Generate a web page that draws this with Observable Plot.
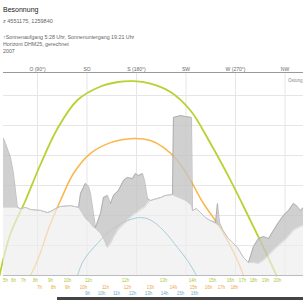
<!DOCTYPE html>
<html><head><meta charset="utf-8">
<script src="https://cdn.jsdelivr.net/npm/d3@7"></script>
<script src="https://cdn.jsdelivr.net/npm/@observablehq/plot@0.6"></script>
<style>
body{margin:0;background:#fff;font-family:"Liberation Sans",Arial,sans-serif;width:303px;height:300px;overflow:hidden;position:relative}
.t{position:absolute;left:3px;white-space:nowrap;color:#666;line-height:1}
</style></head><body>
<div class="t" style="top:6px;font-size:7px;color:#222">Besonnung</div>
<div class="t" style="top:19px;font-size:5.5px">z 4551175, 1259840</div>
<div class="t" style="top:35px;font-size:5.3px">↑Sonnenaufgang 5:28 Uhr, Sonnenuntergang 19:21 Uhr</div>
<div class="t" style="top:42px;font-size:5.3px">Horizont DHM25, gerechnet</div>
<div class="t" style="top:49px;font-size:5.3px">2007</div>
<div id="chart" style="position:absolute;top:60px;left:0"></div>
<div style="position:absolute;left:57px;top:297px;width:246px;height:3px;background:#444"></div>
<script>
// Top axis (azimuth, degrees)
const dirTicks = [90, 135, 180, 225, 270, 315];
const dirLabels = ["O (90°)", "SO", "S (180°)", "SW", "W (270°)", "NW"];

// Sun paths: azimuth / elevation (degrees)
const summerAz   = [55.5, 65.5, 79.1, 92.7, 108.2, 126.4, 147.3, 163, 177.3, 192.7, 210.9, 229.1, 247.3, 265.5, 283.6, 295.5, 307.3];
const summerElev = [0, 14, 25, 37, 49, 58.5, 63, 64.5, 64.8, 64, 61.2, 55, 44, 31.7, 18.3, 9.3, 0];
const equinoxAz   = [83.6, 90, 101.8, 110.9, 122.7, 138.2, 156.4, 177.3, 192.7, 204.5, 217.3, 229.1, 240.9, 253.6, 262.7, 271.8, 277.3];
const equinoxElev = [0, 5, 17.3, 25, 34, 40.7, 44.3, 45.7, 45, 42.7, 38.3, 31.7, 24, 17.3, 11.7, 5, 0];
const winterAz   = [126.4, 131.8, 144.5, 156.4, 171.8, 183.6, 192.7, 204.5, 217.3, 226.4, 234.5];
const winterElev = [0, 5, 10.7, 15, 18.3, 19.3, 18.5, 15, 9.3, 5, 0];

// Hour marks along the bottom
const summerHourAz = [60.9, 68.2, 77.3, 88.2, 101.8, 117.3, 136.4, 170, 204.5, 230.9, 249.1, 265.5, 276.4, 286.4, 297.3, 308.2];
const summerHours  = ["5h","6h","7h","8h","9h","10h","11h","12h","13h","14h","15h","16h","17h","18h","19h","20h"];
const equinoxHourAz = [91.8, 104.5, 117.3, 131.8, 151.8, 171.8, 192.7, 213.6, 231.8, 245.5, 257.3, 269.1];
const equinoxHours  = ["7h","8h","9h","10h","11h","12h","13h","14h","15h","16h","17h","18h"];
const winterHourAz = [135.5, 148.2, 161.8, 176.4, 190.9, 205.5, 220, 232.7];
const winterHours  = ["9h","10h","11h","12h","13h","14h","15h","16h"];

// Horizon profile: azimuth, near horizon elevation, far horizon elevation
const horizonAz = [59.1, 60.9, 65.5, 68.2, 70.0, 71.8, 74.5, 79.1, 83.6, 92.7, 99.1, 101.8, 106.4, 110.9, 120.0, 127.3,
  129.1, 133.6, 136.4, 138.2, 140.9, 142.7, 147.3, 150.0, 153.6, 156.4, 159.1, 163.6, 168.2, 171.8, 176.4, 179.1, 181.8,
  185.5, 187.3, 190.0, 192.7, 201.8, 206.4, 212.7, 213.6, 220.0, 224.5, 230.0, 230.9, 234.5, 238.2, 242.7, 247.3, 251.8,
  253.6, 255.5, 258.2, 262.7, 267.3, 271.8, 277.3, 281.8, 286.4, 290.9, 295.5, 300.0, 304.5, 309.1, 313.6, 318.2, 322.7, 325.5, 329.1, 331.8];
const nearElev = [22.7, 22.7, 22.7, 22.7, 22.7, 22.7, 22.3, 22.7, 22, 21.7, 21, 21.3, 22.3, 23, 23.3, 22.7,
  21.7, 19, 18, 17.3, 16, 15.7, 14, 12.3, 9.3, 10.7, 12.7, 15.3, 17, 18.3, 20, 20.7, 21.3,
  22.3, 22.7, 24, 25, 26, 26.7, 27, 26.7, 25.7, 25, 23.3, 21.7, 22.3, 21, 19.3, 18.3, 17.3,
  17, 16.7, 15.3, 12.7, 11, 9.3, 6, 4.3, 4.3, 4, 5, 6.7, 8.3, 10, 11.3, 13, 15, 15.7, 16.3, 16.7];
const farElev = [45.7, 44, 39.3, 34, 28.3, 22.7, 22.3, 22.7, 22, 21.7, 21, 21.3, 22.3, 23, 23.3, 22.7,
  27.3, 30.7, 29.7, 27.3, 20.7, 16, 20.7, 26, 26.7, 24, 26.7, 28.3, 31.7, 32.7, 32.3, 34, 33.3,
  34, 31.7, 25.7, 25, 26, 26.7, 27, 52.7, 53.3, 53, 52.7, 21.7, 22.3, 21, 19.3, 18.3, 17.7,
  24, 17.7, 15.3, 12.7, 11, 9.3, 6, 4.3, 9.7, 12.3, 13, 12.3, 15, 17.7, 20, 21.7, 24, 23.3, 21.7, 22.7];

const green = "#b5d334", orange = "#fbb64a", blue = "#8fc0d4";
const horizon = horizonAz.map((a, i) => ({az: a, near: nearElev[i], far: farElev[i]}));
const path = (az, el) => az.map((a, i) => ({az: a, el: el[i]}));
const hours = (az, lab) => az.map((a, i) => ({az: a, t: lab[i]}));

const chart = Plot.plot({
  width: 303, height: 240,
  marginTop: 12, marginBottom: 25, marginLeft: 3, marginRight: 0,
  style: {fontFamily: "Liberation Sans, Arial, sans-serif", background: "transparent", overflow: "visible"},
  x: {domain: [59.1, 331.8], axis: null},
  y: {domain: [0, 67.67], axis: null},
  marks: [
    Plot.gridX(dirTicks, {stroke: "#e6e6e6", strokeOpacity: 1}),
    Plot.gridY([10, 20, 30, 40, 50, 60], {stroke: "#e6e6e6", strokeOpacity: 1}),
    Plot.line(path(summerAz, summerElev), {x: "az", y: "el", stroke: green, strokeWidth: 1.8, curve: "catmull-rom"}),
    Plot.line(path(equinoxAz, equinoxElev), {x: "az", y: "el", stroke: orange, strokeWidth: 1.5, curve: "catmull-rom"}),
    Plot.areaY(horizon, {x: "az", y1: 0, y2: "near", fill: "#eeeeee", fillOpacity: 0.68}),
    Plot.line(path(winterAz, winterElev), {x: "az", y: "el", stroke: blue, strokeWidth: 0.9, strokeOpacity: 0.85, curve: "catmull-rom"}),
    Plot.areaY(horizon, {x: "az", y1: "near", y2: "far", fill: "#c4c4c4", fillOpacity: 0.8}),
    Plot.line(horizon, {x: "az", y: "far", stroke: "#999", strokeWidth: 0.6}),
    Plot.line(horizon, {x: "az", y: "near", stroke: "#c8c8c8", strokeWidth: 0.6}),
    Plot.ruleY([0], {stroke: "#bbb", strokeWidth: 1}),
    Plot.ruleY([67.67], {stroke: "#999", strokeWidth: 1}),
    Plot.text(hours(summerHourAz, summerHours), {x: "az", text: "t", frameAnchor: "bottom", dy: 6, fill: "#a9c93a", fontSize: 4.5}),
    Plot.text(hours(equinoxHourAz, equinoxHours), {x: "az", text: "t", frameAnchor: "bottom", dy: 13, fill: "#f2a43a", fontSize: 4.5}),
    Plot.text(hours(winterHourAz, winterHours), {x: "az", text: "t", frameAnchor: "bottom", dy: 19, fill: "#6fa8c8", fontSize: 4.5}),
    Plot.text(dirTicks, {x: d => d, text: (d, i) => dirLabels[i], frameAnchor: "top", dy: -5, fill: "#666", fontSize: 5}),
    Plot.text(["Ostung"], {frameAnchor: "top-right", dx: -1, dy: 6, fill: "#888", fontSize: 4.5})
  ]
});
document.getElementById("chart").appendChild(chart);
</script>
</body></html>
